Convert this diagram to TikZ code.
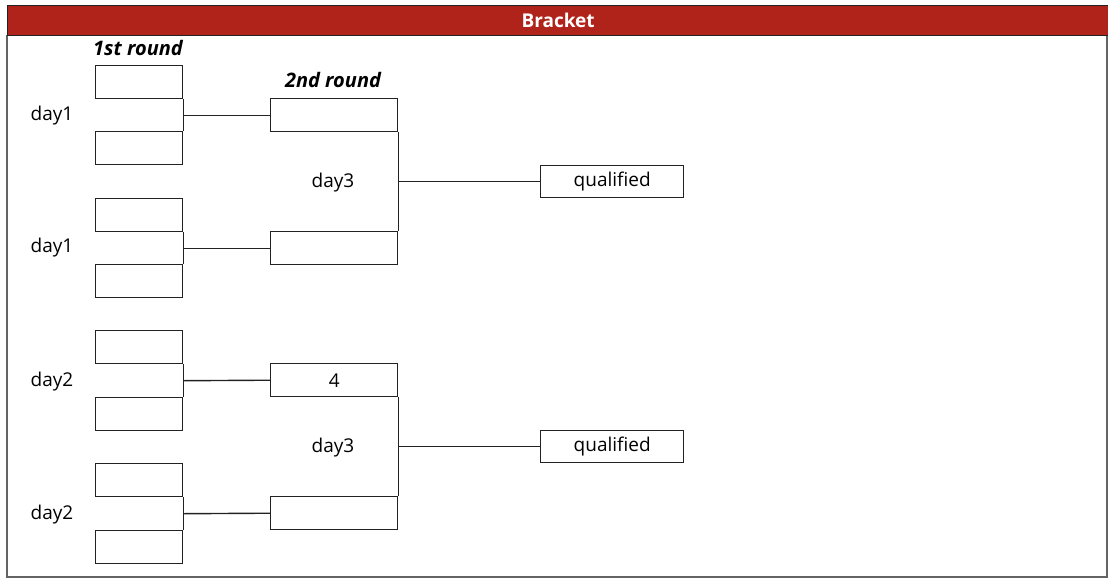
\documentclass[tikz,border=0pt]{standalone}
\usepackage{fontspec}
\setmainfont{Open Sans}
\usetikzlibrary{calc}
\definecolor{hdr}{HTML}{B0231A}
\definecolor{ln}{HTML}{222222}
\begin{document}
\begin{tikzpicture}[x=1pt,y=-1pt,
  every node/.style={font=\fontsize{19}{22}\selectfont, text=black},
  slot/.style={draw=ln, line width=1.4pt, minimum width=87pt, minimum height=33pt, inner sep=0pt, anchor=north west},
  slottwo/.style={slot, minimum width=127pt},
  qbox/.style={slot, minimum width=143pt, minimum height=32pt},
  conn/.style={draw=ln, line width=1.4pt},
  rnd/.style={font=\fontsize{20}{23}\selectfont\bfseries\itshape},
  lbl/.style={anchor=center}]
\useasboundingbox (0,0) rectangle (1108,579);
% frame and header
\draw[draw=ln!70, line width=1.2pt] (7,35) -- (7,577) -- (1107,577) -- (1107,35);
\node[draw=ln, line width=1.2pt, fill=hdr, minimum width=1101pt, minimum height=30pt, inner sep=0pt, anchor=north west,
      font=\fontsize{19}{22}\selectfont\bfseries, text=white] (hdr) at (7,5) {Bracket};
% round titles
\node[rnd] (t1) at (138,48) {1st round};
\node[rnd] (t2) at (333,80) {2nd round};
% first round
\node[slot] (a1) at (95,65) {};
\node[slot] (a2) at (95,131) {};
\node[slot] (a3) at (95,198) {};
\node[slot] (a4) at (95,264) {};
\node[slot] (a5) at (95,330) {};
\node[slot] (a6) at (95,397) {};
\node[slot] (a7) at (95,463) {};
\node[slot] (a8) at (95,530) {};
% second round
\node[slottwo] (b1) at (270,98) {};
\node[slottwo] (b2) at (270,231) {};
\node[slottwo] (b3) at (270,363) {4};
\node[slottwo] (b4) at (270,496) {};
% qualified
\node[qbox] (q1) at (540,165) {qualified};
\node[qbox] (q2) at (540,430) {qualified};
% day labels
\node[lbl] (d1) at (52,116) {day1};
\node[lbl] (d2) at (52,248) {day1};
\node[lbl] (d3) at (52,382) {day2};
\node[lbl] (d4) at (52,515) {day2};
\node[lbl] (d5) at (333,183) {day3};
\node[lbl] (d6) at (333,448) {day3};
% connectors round 1 -> 2
\foreach \u/\v/\w in {a1/a2/b1, a3/a4/b2, a5/a6/b3, a7/a8/b4}{
  \draw[conn] (\u.south east) -- (\v.north east);
  \draw[conn] ($(\u.south east)!0.5!(\v.north east)$) -- (\w.west);
}
% connectors round 2 -> qualified
\foreach \u/\v/\w in {b1/b2/q1, b3/b4/q2}{
  \draw[conn] (\u.south east) -- (\v.north east);
  \draw[conn] ($(\u.south east)!0.5!(\v.north east)$) -- (\w.west);
}
\end{tikzpicture}
\end{document}
